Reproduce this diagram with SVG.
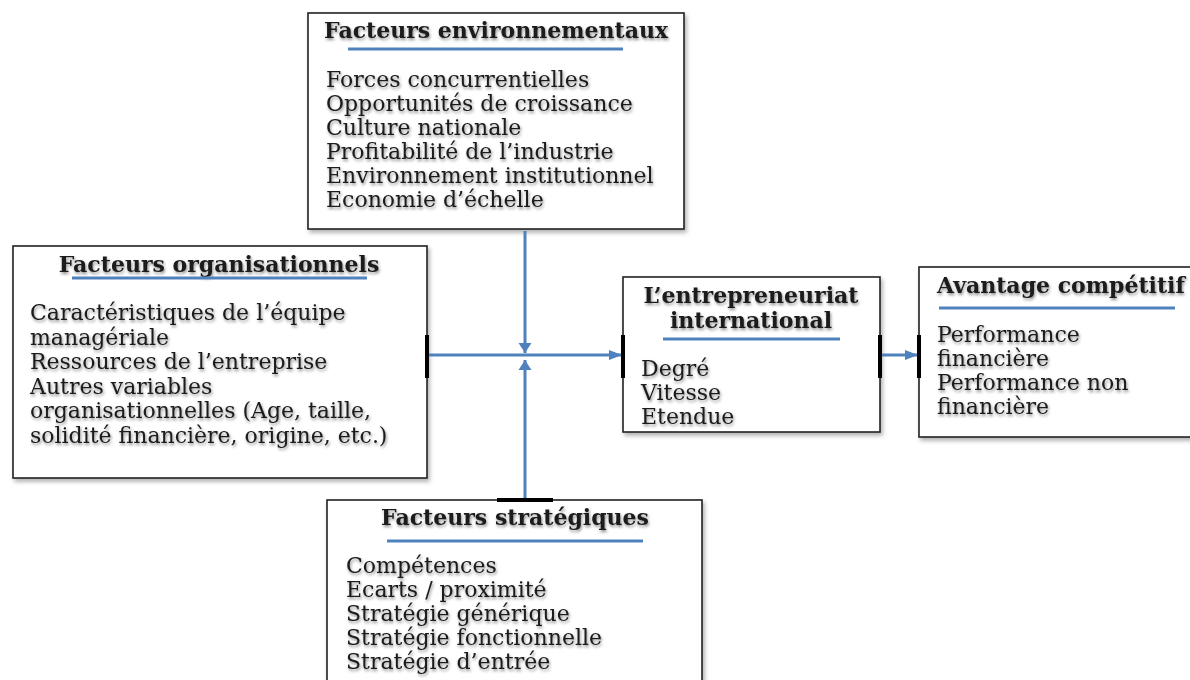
<svg xmlns="http://www.w3.org/2000/svg" width="1190" height="680" viewBox="0 0 1190 680">
<defs>
<filter id="ts" x="-5%" y="-30%" width="110%" height="160%">
<feDropShadow dx="1" dy="2" stdDeviation="1.6" flood-color="#000" flood-opacity="0.45"/>
</filter>
<filter id="bs" x="-5%" y="-5%" width="110%" height="110%">
<feDropShadow dx="2" dy="3" stdDeviation="2" flood-color="#000" flood-opacity="0.3"/>
</filter>
<marker id="ah" viewBox="0 0 10 10" refX="10" refY="5" markerWidth="4.4" markerHeight="3.4" orient="auto" markerUnits="strokeWidth" preserveAspectRatio="none">
<path d="M0,0 L10,5 L0,10 z" fill="#4f81bd"/>
</marker>
<marker id="av" viewBox="0 0 10 10" refX="10" refY="5" markerWidth="3.4" markerHeight="4.4" orient="auto" markerUnits="strokeWidth" preserveAspectRatio="none">
<path d="M0,0 L10,5 L0,10 z" fill="#4f81bd"/>
</marker>
</defs>
<style>
.box{fill:#fff;stroke:#222;stroke-width:1.6}
.t{font-family:"DejaVu Serif","Liberation Serif",serif;font-size:22px;fill:#1a1a1a}
.h{font-family:"DejaVu Serif","Liberation Serif",serif;font-size:22px;font-weight:bold;fill:#1a1a1a}
.ul{stroke:#4f81bd;stroke-width:3}
.cn{stroke:#4f81bd;stroke-width:3;fill:none}
.tick{stroke:#000;stroke-width:4}
</style>
<rect width="1190" height="680" fill="#fff"/>

<g id="env">
<rect class="box" x="308" y="13" width="376" height="216" filter="url(#bs)"/>
<g filter="url(#ts)">
<text class="h" x="496" y="38" text-anchor="middle">Facteurs environnementaux</text>
<text class="t" x="326" y="87">Forces concurrentielles</text>
<text class="t" x="326" y="111">Opportunités de croissance</text>
<text class="t" x="326" y="135">Culture nationale</text>
<text class="t" x="326" y="159">Profitabilité de l’industrie</text>
<text class="t" x="326" y="183">Environnement institutionnel</text>
<text class="t" x="326" y="207">Economie d’échelle</text>
</g>
<line class="ul" x1="348" y1="49" x2="623" y2="49"/>
</g>

<g id="org">
<rect class="box" x="13" y="246" width="414" height="232" filter="url(#bs)"/>
<g filter="url(#ts)">
<text class="h" x="219" y="272" text-anchor="middle">Facteurs organisationnels</text>
<text class="t" x="30" y="320">Caractéristiques de l’équipe</text>
<text class="t" x="30" y="344.5">managériale</text>
<text class="t" x="30" y="369">Ressources de l’entreprise</text>
<text class="t" x="30" y="393.5">Autres variables</text>
<text class="t" x="30" y="418">organisationnelles (Age, taille,</text>
<text class="t" x="30" y="442.5">solidité financière, origine, etc.)</text>
</g>
<line class="ul" x1="72" y1="278" x2="367" y2="278"/>
</g>

<g id="ei">
<rect class="box" x="623" y="277" width="257" height="155" filter="url(#bs)"/>
<g filter="url(#ts)">
<text class="h" x="751" y="303" text-anchor="middle">L’entrepreneuriat</text>
<text class="h" x="751" y="328" text-anchor="middle">international</text>
<text class="t" x="641" y="376">Degré</text>
<text class="t" x="641" y="400">Vitesse</text>
<text class="t" x="641" y="424">Etendue</text>
</g>
<line class="ul" x1="663" y1="339" x2="840" y2="339"/>
</g>

<g id="ac">
<rect class="box" x="919" y="267" width="280" height="170" filter="url(#bs)"/>
<g filter="url(#ts)">
<text class="h" x="937" y="293">Avantage compétitif</text>
<text class="t" x="937" y="342">Performance</text>
<text class="t" x="937" y="366">financière</text>
<text class="t" x="937" y="390">Performance non</text>
<text class="t" x="937" y="414">financière</text>
</g>
<line class="ul" x1="939" y1="308" x2="1175" y2="308"/>
</g>

<g id="strat">
<rect class="box" x="327" y="500" width="375" height="200" filter="url(#bs)"/>
<g filter="url(#ts)">
<text class="h" x="515" y="525" text-anchor="middle">Facteurs stratégiques</text>
<text class="t" x="346" y="573">Compétences</text>
<text class="t" x="346" y="597">Ecarts / proximité</text>
<text class="t" x="346" y="621">Stratégie générique</text>
<text class="t" x="346" y="645">Stratégie fonctionnelle</text>
<text class="t" x="346" y="669">Stratégie d’entrée</text>
</g>
<line class="ul" x1="387" y1="541" x2="643" y2="541"/>
</g>

<g id="connectors">
<line class="cn" x1="428" y1="355" x2="622" y2="355" marker-end="url(#ah)"/>
<line class="cn" x1="525" y1="231" x2="525" y2="353" marker-end="url(#av)"/>
<line class="cn" x1="525" y1="498" x2="525" y2="360" marker-end="url(#av)"/>
<line class="cn" x1="881" y1="355" x2="918" y2="355" marker-end="url(#ah)"/>
<line class="tick" x1="427" y1="335" x2="427" y2="378"/>
<line class="tick" x1="623" y1="335" x2="623" y2="378"/>
<line class="tick" x1="880" y1="335" x2="880" y2="378"/>
<line class="tick" x1="919" y1="335" x2="919" y2="378"/>
<line class="tick" x1="497" y1="500" x2="553" y2="500"/>
</g>
</svg>
